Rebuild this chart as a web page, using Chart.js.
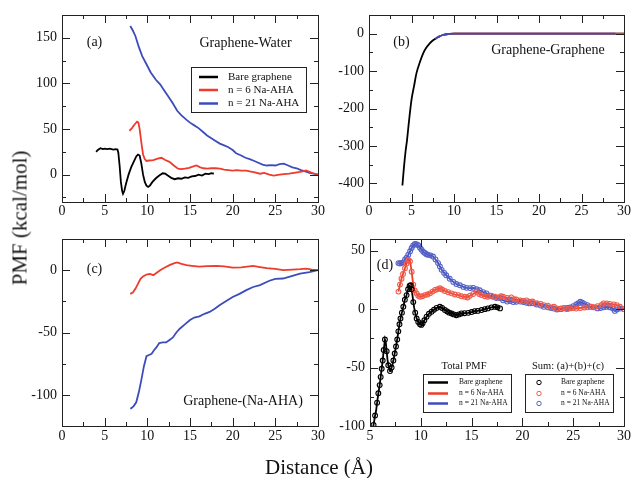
<!DOCTYPE html>
<html><head><meta charset="utf-8">
<script src="https://cdn.jsdelivr.net/npm/chart.js@4.4.1/dist/chart.umd.min.js"></script>
<style>
html,body{margin:0;padding:0;background:#fff;width:633px;height:478px;overflow:hidden;}
#wrap{position:relative;width:633px;height:478px;}
canvas{position:absolute;}
.lbl{position:absolute;font-family:"Liberation Serif","Times New Roman",serif;color:#111;white-space:nowrap;}
</style></head><body>
<div id="wrap">
<canvas id="ca" width="330" height="230" style="left:0;top:0"></canvas>
<canvas id="cb" width="313" height="230" style="left:320px;top:0"></canvas>
<canvas id="cc" width="330" height="230" style="left:0;top:225px"></canvas>
<canvas id="cd" width="313" height="230" style="left:320px;top:225px"></canvas>
<div class="lbl" id="ylab" style="font-size:21px;left:20px;top:218px;transform:translate(-50%,-50%) rotate(-90deg);">PMF (kcal/mol)</div>
<div class="lbl" id="xlab" style="font-size:21px;left:319px;top:467px;transform:translate(-50%,-50%);">Distance (Å)</div>
</div>
<script>
// ---------- DATA (x in Å, PMF in kcal/mol) ----------
const seriesNames = ['Bare graphene', 'n = 6 Na-AHA', 'n = 21 Na-AHA'];
const xTicks = [0, 5, 10, 15, 20, 25, 30];
const xTicksD = [5, 10, 15, 20, 25, 30];
const yTicksA = [0, 50, 100, 150];
const yTicksB = [-400, -300, -200, -100, 0];
const yTicksC = [-100, -50, 0];
const yTicksD = [-100, -50, 0, 50];

// (a) Graphene-Water
const waterBare = [[4.0,25],[4.2,27],[4.5,29],[4.8,28],[5.0,28.5],[5.3,28],[5.6,28.5],[6.0,27.5],[6.3,28],[6.5,27.5],[6.6,24],[6.75,10],[6.9,-8],[7.05,-18],[7.15,-21],[7.3,-18],[7.5,-10],[7.8,0],[8.1,8],[8.4,14],[8.7,20],[8.9,22],[9.1,21],[9.3,12],[9.5,0],[9.7,-8],[9.9,-12],[10.1,-13.5],[10.3,-12],[10.6,-8],[11.0,-4],[11.4,-1],[11.8,1.5],[12.1,1],[12.4,-1],[12.8,-3.5],[13.2,-5],[13.6,-4],[14.0,-4.5],[14.4,-3],[14.8,-3.5],[15.2,-2],[15.6,-1.5],[16.0,0],[16.4,-1],[16.8,1],[17.2,0.5],[17.5,1.5],[17.8,1]];
const waterN6 = [[7.9,48],[8.2,51],[8.5,55],[8.8,58],[8.95,57],[9.1,50],[9.3,35],[9.5,22],[9.7,17],[9.9,15],[10.2,15.5],[10.7,16],[11.2,17.5],[11.65,18.5],[12.1,16],[12.6,14],[13.1,10],[13.6,6.5],[14.0,6],[14.4,6.5],[14.9,7.5],[15.4,9],[15.75,10],[16.2,8],[16.6,7],[17.0,6.5],[17.5,7],[18.0,7],[18.5,6.5],[19.0,5.5],[19.5,5],[20.0,4.5],[20.5,5],[21.0,4.5],[21.6,4.5],[22.0,3.5],[22.6,2.5],[23.2,1],[23.7,2],[24.3,0],[24.8,-1],[25.5,0],[26.0,0.5],[26.6,1],[27.2,2],[27.9,3],[28.6,4.5],[29.0,3],[29.4,1.5],[30,0]];
const waterN21 = [[8.0,163],[8.3,158],[8.6,152],[9.0,140],[9.4,130],[9.9,121],[10.4,112],[11.0,104],[11.5,99],[12.0,92],[12.5,85],[13.0,78],[13.5,70],[14.0,65],[14.6,60],[15.0,57],[15.5,54],[16.0,51],[16.5,47],[17.0,43],[17.5,40],[18.0,37],[18.5,34],[19.0,32],[19.5,30],[20.0,27],[20.4,23.5],[21.0,21],[21.5,18.5],[22.0,17],[22.4,15.5],[23.0,13],[23.5,11],[24.0,10],[24.5,10.5],[25.0,10],[25.5,11.5],[26.0,12],[26.5,10],[27.0,8],[27.5,7],[28.0,5],[28.5,3.5],[29.0,2],[29.5,1],[30,0]];

// (b) Graphene-Graphene
const ggBare = [[3.93,-406],[4.1,-360],[4.3,-315],[4.47,-285],[4.7,-235],[4.99,-178],[5.3,-140],[5.58,-106],[6.0,-75],[6.36,-53],[6.75,-37],[7.14,-26],[7.5,-18],[7.93,-12],[8.3,-7],[8.7,-3.5],[9.1,-1.5],[9.5,-0.3],[10,0],[15,0],[20,0],[25,0],[30,0]];
const ggN6 = [[8.0,-11],[8.3,-7],[8.7,-3.5],[9.1,-1.5],[9.5,-0.3],[10,0],[15,0],[20,0],[25,0],[30,0]];
const ggN21 = [[7.8,-14],[8.0,-11],[8.3,-7],[8.7,-3.5],[9.1,-1.5],[9.5,-0.3],[10,0],[15,0],[20,0],[25,0],[29,0]];

// (c) Graphene-(Na-AHA)
const ganN6 = [[8.0,-19],[8.3,-18],[8.6,-15],[8.9,-11],[9.2,-7],[9.5,-5],[9.9,-3.5],[10.3,-3],[10.7,-4],[11.1,-2],[11.5,0],[12.0,2],[12.6,4],[13.1,5.5],[13.5,6.2],[14.0,5],[14.6,4],[15.2,3.5],[16.1,2.8],[17.0,3.2],[18.1,3.5],[19.0,3],[20.0,2],[21.0,2.2],[22.4,3.5],[23.2,2.5],[24.0,1.6],[25.0,1],[25.9,0],[27.0,0.5],[27.9,0.8],[28.6,1.2],[29.3,0.5],[30,0]];
const ganN21 = [[8.0,-111],[8.13,-110.7],[8.4,-109],[8.7,-106],[9.0,-98],[9.3,-88],[9.6,-77],[9.9,-69],[10.2,-68],[10.5,-67],[10.8,-64],[11.06,-62],[11.4,-58.5],[11.8,-58],[12.2,-58],[12.6,-56],[13.0,-54],[13.4,-50],[13.8,-47],[14.4,-43.5],[15.0,-40],[15.5,-38],[16.1,-37],[16.7,-35],[17.3,-33.5],[17.9,-31],[18.5,-28],[19.2,-25],[20.0,-21.5],[20.8,-19],[21.6,-16],[22.4,-13.5],[23.2,-12],[24.3,-8.5],[25.0,-7],[25.9,-6.7],[27.0,-4.5],[27.9,-2.7],[29.0,-1.5],[30,0]];

// (d) Total PMF (lines)
const totalBare = [[5.2,-105],[5.35,-99],[5.5,-91],[5.6,-87],[5.7,-80],[5.82,-72],[5.95,-65],[6.05,-58],[6.15,-51],[6.25,-44],[6.35,-35],[6.47,-26],[6.56,-29],[6.64,-36],[6.72,-43],[6.8,-48],[6.9,-51],[6.97,-53],[7.05,-52],[7.13,-50],[7.22,-47],[7.3,-44],[7.43,-38],[7.56,-32],[7.68,-26],[7.79,-19],[7.9,-13],[8.0,-8],[8.14,-3],[8.28,2],[8.43,8],[8.6,12],[8.75,17],[8.9,20],[9.0,20.5],[9.1,17],[9.18,12],[9.26,6],[9.35,1],[9.45,-3],[9.59,-8],[9.75,-11],[9.92,-13],[10.05,-13.5],[10.18,-12],[10.35,-9.5],[10.57,-6.5],[10.8,-4],[11.06,-2.3],[11.3,-0.5],[11.55,1],[11.72,1.8],[11.88,2],[12.1,1],[12.37,-0.8],[12.6,-2],[12.8,-3],[13.03,-3.7],[13.25,-4.5],[13.5,-5.2],[13.75,-4.5],[14.0,-3.7],[14.3,-3.5],[14.67,-3.2],[15.0,-2.5],[15.3,-1.7],[15.6,-1.5],[15.98,-0.8],[16.3,0],[16.6,0.6],[16.95,1.5],[17.3,2],[17.55,1.5],[17.8,0.6]];
const totalN6 = [[7.8,15],[7.95,21],[8.1,26],[8.25,30],[8.44,35],[8.6,39],[8.77,42],[8.85,43],[8.93,41],[9.02,37],[9.1,32],[9.18,26],[9.26,21],[9.4,16],[9.59,13.5],[9.75,11.5],[9.92,10.6],[10.15,11],[10.4,12],[10.65,12.5],[10.9,13.5],[11.15,15],[11.4,16.4],[11.65,17],[11.88,17.8],[12.1,16.8],[12.37,15.5],[12.7,14.5],[13.03,13.5],[13.35,12.5],[13.7,12],[14.0,11],[14.34,10.6],[14.6,10],[14.83,11.5],[15.15,13],[15.5,14.9],[15.75,13],[15.98,12],[16.3,11],[16.6,10.6],[16.95,11.5],[17.3,10.6],[17.6,10],[17.9,11],[18.1,10.6],[18.5,9.5],[18.9,10],[19.2,8.5],[19.4,8.3],[19.8,7.5],[20.1,7],[20.4,7.5],[20.7,6.3],[21.0,6.5],[21.4,5],[21.8,4.5],[22.1,3.4],[22.5,3],[22.8,1.5],[23.1,2],[23.4,0.6],[23.8,0.5],[24.1,1],[24.4,0],[24.7,0.6],[25.0,1],[25.3,0.5],[25.7,1],[26.1,1.4],[26.4,1.5],[26.8,2],[27.1,1.5],[27.4,2.6],[27.8,3.5],[28.0,4.9],[28.3,4.9],[28.6,4.5],[29.0,4],[29.3,3.4],[29.6,2],[30,0]];
const totalN21 = [[7.8,39.4],[7.95,39],[8.1,39.5],[8.28,40],[8.45,42.5],[8.6,44],[8.77,46.5],[8.95,49.5],[9.1,52.3],[9.25,54.5],[9.42,55.7],[9.58,55.5],[9.75,54.6],[9.92,52.5],[10.08,50.9],[10.25,49],[10.4,48],[10.55,47],[10.7,46.5],[10.95,46],[11.2,45],[11.45,42.5],[11.7,39.4],[11.88,36.5],[12.05,33.6],[12.3,31],[12.5,29],[12.85,26],[13.2,23.3],[13.5,21.5],[13.85,20.4],[14.2,19],[14.5,18.2],[14.85,18],[15.16,18.2],[15.5,17],[15.8,16.1],[16.15,14.5],[16.47,13.5],[16.8,11.5],[17.1,10.6],[17.45,9.5],[17.8,9.5],[18.1,7.5],[18.5,6.5],[18.8,7],[19.1,6],[19.4,6.3],[19.8,6.5],[20.1,6],[20.4,5.5],[20.7,4.9],[21.0,5],[21.4,4],[21.8,3],[22.1,2],[22.5,1.5],[22.8,1],[23.1,0.5],[23.4,-0.3],[23.8,0],[24.1,0.8],[24.4,1],[24.7,1.4],[25.0,2.5],[25.3,4],[25.5,5],[25.7,6.3],[25.9,5.5],[26.1,4.5],[26.4,3.4],[26.7,2],[27.0,1.5],[27.4,0.6],[27.7,1],[28.0,1.5],[28.3,2],[28.6,1.5],[28.9,0.5],[29.1,-1.5],[29.3,-0.3],[29.6,0.5],[30,0]];

// (d) Sum (a)+(b)+(c) (open circles)
const sumBare = [[5.35,-99],[5.5,-91],[5.7,-80],[5.82,-72],[5.95,-65],[6.05,-58],[6.15,-51],[6.25,-44],[6.35,-35],[6.47,-26],[6.64,-36],[6.8,-48],[6.97,-53],[7.13,-50],[7.3,-44],[7.43,-38],[7.56,-32],[7.68,-26],[7.79,-19],[7.9,-13],[8.0,-8],[8.14,-3],[8.28,2],[8.43,8],[8.6,12],[8.75,17],[8.9,20],[9.0,20.5],[9.1,17],[9.26,6],[9.45,-3],[9.59,-8],[9.75,-11],[9.92,-13],[10.05,-13.5],[10.18,-12],[10.35,-9.5],[10.57,-6.5],[10.8,-4],[11.06,-2.3],[11.3,-0.5],[11.55,1],[11.88,2],[12.1,1],[12.37,-0.8],[12.6,-2],[12.8,-3],[13.03,-3.7],[13.25,-4.5],[13.5,-5.2],[13.75,-4.5],[14.0,-3.7],[14.3,-3.5],[14.67,-3.2],[15.0,-2.5],[15.3,-1.7],[15.6,-1.5],[15.98,-0.8],[16.3,0],[16.6,0.6],[16.95,1.5],[17.3,2],[17.55,1.5],[17.8,0.6]];
const sumN6 = [[7.8,15],[7.95,21],[8.1,26],[8.25,30],[8.44,35],[8.6,39],[8.77,42],[8.93,41],[9.1,32],[9.26,21],[9.4,16],[9.59,13.5],[9.75,11.5],[9.92,10.6],[10.15,11],[10.4,12],[10.65,12.5],[10.9,13.5],[11.15,15],[11.4,16.4],[11.65,17],[11.88,17.8],[12.1,16.8],[12.37,15.5],[12.7,14.5],[13.03,13.5],[13.35,12.5],[13.7,12],[14.0,11],[14.34,10.6],[14.6,10],[14.83,11.5],[15.15,13],[15.5,14.9],[15.75,13],[15.98,12],[16.3,11],[16.6,10.6],[16.95,11.5],[17.3,10.6],[17.6,10],[17.9,11],[18.1,10.6],[18.5,9.5],[18.9,10],[19.2,8.5],[19.4,8.3],[19.8,7.5],[20.1,7],[20.4,7.5],[20.7,6.3],[21.0,6.5],[21.4,5],[21.8,4.5],[22.1,3.4],[22.5,3],[22.8,1.5],[23.1,2],[23.4,0.6],[23.8,0.5],[24.1,1],[24.4,0],[24.7,0.6],[25.0,1],[25.3,0.5],[25.7,1],[26.1,1.4],[26.4,1.5],[26.8,2],[27.1,1.5],[27.4,2.6],[27.8,3.5],[28.0,4.9],[28.3,4.9],[28.6,4.5],[29.0,4],[29.3,3.4],[29.6,2],[30,0]];
const sumN21 = [[7.8,39.4],[7.95,39],[8.1,39.5],[8.28,40],[8.45,42.5],[8.6,44],[8.77,46.5],[8.95,49.5],[9.1,52.3],[9.25,54.5],[9.42,55.7],[9.58,55.5],[9.75,54.6],[9.92,52.5],[10.08,50.9],[10.25,49],[10.4,48],[10.55,47],[10.7,46.5],[10.95,46],[11.2,45],[11.45,42.5],[11.7,39.4],[11.88,36.5],[12.05,33.6],[12.3,31],[12.5,29],[12.85,26],[13.2,23.3],[13.5,21.5],[13.85,20.4],[14.2,19],[14.5,18.2],[14.85,18],[15.16,18.2],[15.5,17],[15.8,16.1],[16.15,14.5],[16.47,13.5],[16.8,11.5],[17.1,10.6],[17.45,9.5],[17.8,9.5],[18.1,7.5],[18.5,6.5],[18.8,7],[19.1,6],[19.4,6.3],[19.8,6.5],[20.1,6],[20.4,5.5],[20.7,4.9],[21.0,5],[21.4,4],[21.8,3],[22.1,2],[22.5,1.5],[22.8,1],[23.1,0.5],[23.4,-0.3],[23.8,0],[24.1,0.8],[24.4,1],[24.7,1.4],[25.0,2.5],[25.3,4],[25.5,5],[25.7,6.3],[25.9,5.5],[26.1,4.5],[26.4,3.4],[26.7,2],[27.0,1.5],[27.4,0.6],[27.7,1],[28.0,1.5],[28.3,2],[28.6,1.5],[28.9,0.5],[29.1,-1.5],[29.3,-0.3],[29.6,0.5],[30,0]];

// ---------- STYLE ----------
const FONT = '"Liberation Serif", "Times New Roman", serif';
const BLACK = '#000000', RED = '#ee3b2b', BLUE = '#3c4cbc';
const RED_M = '#f05a48', BLUE_M = '#5662c8';

const toXY = arr => arr.map(p => ({x: p[0], y: p[1]}));

function lineDs(label, arr, color, extra) {
  return Object.assign({label, data: toXY(arr), borderColor: color, backgroundColor: color,
    borderWidth: 1.8, pointRadius: 0, tension: 0, fill: false, showLine: true, order: 1}, extra || {});
}
function markDs(label, arr, color) {
  return {label, data: toXY(arr), borderColor: color, backgroundColor: 'rgba(255,255,255,0)',
    borderWidth: 1.1, pointRadius: 2.4, pointStyle: 'circle', showLine: false, order: 0};
}

// Frame, inward ticks, annotations and in-plot legends
const panelPlugin = {
  id: 'panel',
  afterDatasetsDraw(chart) {
    const ctx = chart.ctx, a = chart.chartArea;
    ctx.save();
    ctx.strokeStyle = '#222';
    ctx.lineWidth = 1;
    ctx.strokeRect(Math.round(a.left)+0.5, Math.round(a.top)+0.5, Math.round(a.right-a.left), Math.round(a.bottom-a.top));
    ['x','y'].forEach(id => {
      const s = chart.scales[id];
      const vals = s.ticks.map(t => t.value);
      const step = vals[1] - vals[0];
      const minors = [];
      for (let v = vals[0] - step/2; v > s.min + 1e-9; v -= step) minors.push(v);
      vals.forEach(v => { const m = v + step/2; if (m < s.max - 1e-9) minors.push(m); });
      const draw = (v, len) => {
        const p = Math.round(s.getPixelForValue(v)) + 0.5;
        ctx.beginPath();
        if (id === 'x') {
          ctx.moveTo(p, a.bottom); ctx.lineTo(p, a.bottom - len);
          ctx.moveTo(p, a.top); ctx.lineTo(p, a.top + len);
        } else {
          ctx.moveTo(a.left, p); ctx.lineTo(a.left + len, p);
          ctx.moveTo(a.right, p); ctx.lineTo(a.right - len, p);
        }
        ctx.stroke();
      };
      vals.forEach(v => draw(v, 8));
      minors.forEach(v => draw(v, 4));
    });
    ctx.restore();
  },
  afterDraw(chart) {
    const o = chart.options.plugins.panel || {};
    const ctx = chart.ctx;
    ctx.save();
    ctx.fillStyle = '#111';
    ctx.textBaseline = 'middle';
    (o.texts || []).forEach(t => {
      ctx.font = t.size + 'px ' + FONT;
      ctx.textAlign = t.align || 'center';
      ctx.fillText(t.t, t.x, t.y);
    });
    (o.legends || []).forEach(L => {
      ctx.strokeStyle = '#222'; ctx.lineWidth = 1;
      ctx.strokeRect(L.box[0]+0.5, L.box[1]+0.5, L.box[2]-L.box[0], L.box[3]-L.box[1]);
      if (L.title) {
        ctx.font = L.titleSize + 'px ' + FONT; ctx.textAlign = 'center'; ctx.fillStyle = '#111';
        ctx.fillText(L.title, L.titleX, L.titleY);
      }
      L.items.forEach((idx, i) => {
        const ds = chart.data.datasets[idx];
        const y = L.rows[i];
        if (L.kind === 'line') {
          ctx.strokeStyle = ds.borderColor; ctx.lineWidth = L.lw;
          ctx.beginPath(); ctx.moveTo(L.sx1, y); ctx.lineTo(L.sx2, y); ctx.stroke();
        } else {
          ctx.strokeStyle = ds.borderColor; ctx.lineWidth = 1;
          ctx.beginPath(); ctx.arc(L.mx, y, 2.2, 0, Math.PI*2); ctx.stroke();
        }
        ctx.fillStyle = '#111'; ctx.textAlign = 'left';
        ctx.font = L.size + 'px ' + FONT;
        ctx.fillText(ds.label, L.tx, y);
      });
    });
    ctx.restore();
  }
};

function makeChart(id, datasets, xr, xt, yr, yt, lay, panel) {
  const tickFont = {family: FONT, size: 14};
  return new Chart(document.getElementById(id), {
    type: 'scatter',
    data: {datasets},
    plugins: [panelPlugin],
    options: {
      responsive: false, animation: false, devicePixelRatio: 1,
      layout: {padding: {top: lay.top, right: lay.right, left: 0, bottom: 0}},
      plugins: {legend: {display: false}, tooltip: {enabled: false}, panel},
      scales: {
        x: {type: 'linear', min: xr[0], max: xr[1], border: {display: false},
            grid: {display: false, drawTicks: false},
            ticks: {font: tickFont, color: '#111', padding: lay.xpad, maxRotation: 0, autoSkip: false},
            afterBuildTicks: s => { s.ticks = xt.map(v => ({value: v})); },
            afterFit: s => { s.height = lay.xh; }},
        y: {type: 'linear', min: yr[0], max: yr[1], border: {display: false},
            grid: {display: false, drawTicks: false},
            ticks: {font: tickFont, color: '#111', padding: 5, autoSkip: false},
            afterBuildTicks: s => { s.ticks = yt.map(v => ({value: v})); },
            afterFit: s => { s.width = lay.yw; }}
      }
    }
  });
}

// (a)
makeChart('ca', [
  lineDs(seriesNames[0], waterBare, BLACK),
  lineDs(seriesNames[1], waterN6, RED),
  lineDs(seriesNames[2], waterN21, BLUE)
], [0, 30], xTicks, [-30, 175], yTicksA,
{top: 15, right: 12, xh: 28, yw: 62, xpad: 1},
{texts: [{t: '(a)', x: 94.5, y: 42, size: 14}, {t: 'Graphene-Water', x: 245.5, y: 43.5, size: 14}],
 legends: [{kind: 'line', box: [191, 67, 306, 112], items: [0,1,2], rows: [77, 90, 103.5], sx1: 199, sx2: 218, tx: 228, lw: 2.5, size: 11}]});

// (b)
makeChart('cb', [
  lineDs(seriesNames[0], ggBare, BLACK, {cubicInterpolationMode: 'monotone', order: 3}),
  lineDs(seriesNames[1], ggN6, RED, {cubicInterpolationMode: 'monotone', order: 2}),
  lineDs(seriesNames[2], ggN21, BLUE, {cubicInterpolationMode: 'monotone', order: 1})
], [0, 30], xTicks, [-450, 50], yTicksB,
{top: 15, right: 9, xh: 28, yw: 49, xpad: 1},
{texts: [{t: '(b)', x: 81.5, y: 42, size: 14}, {t: 'Graphene-Graphene', x: 228, y: 50, size: 14}]});

// (c)
makeChart('cc', [
  lineDs(seriesNames[1], ganN6, RED),
  lineDs(seriesNames[2], ganN21, BLUE)
], [0, 30], xTicks, [-125, 25], yTicksC,
{top: 14, right: 12, xh: 29, yw: 62, xpad: 2},
{texts: [{t: '(c)', x: 94.5, y: 44.5, size: 14}, {t: 'Graphene-(Na-AHA)', x: 243, y: 176, size: 14}]});

// (d)
makeChart('cd', [
  lineDs(seriesNames[0], totalBare, BLACK),
  lineDs(seriesNames[1], totalN6, RED),
  lineDs(seriesNames[2], totalN21, BLUE),
  markDs(seriesNames[0], sumBare, BLACK),
  markDs(seriesNames[1], sumN6, RED_M),
  markDs(seriesNames[2], sumN21, BLUE_M)
], [5, 30], xTicksD, [-100, 60], yTicksD,
{top: 14, right: 9, xh: 29, yw: 50, xpad: 2},
{texts: [{t: '(d)', x: 65, y: 40, size: 14}],
 legends: [
  {kind: 'line', box: [103, 149, 191, 187], title: 'Total PMF', titleX: 144, titleY: 141.5, titleSize: 10.5,
   items: [0,1,2], rows: [157.5, 168.5, 178.5], sx1: 108, sx2: 128, tx: 139, lw: 2.5, size: 7.5},
  {kind: 'mark', box: [205, 149, 293, 187], title: 'Sum: (a)+(b)+(c)', titleX: 248, titleY: 141.5, titleSize: 10.5,
   items: [3,4,5], rows: [157.5, 168.5, 178.5], mx: 219, tx: 241, size: 7.5}
 ]});
</script>
</body></html>
